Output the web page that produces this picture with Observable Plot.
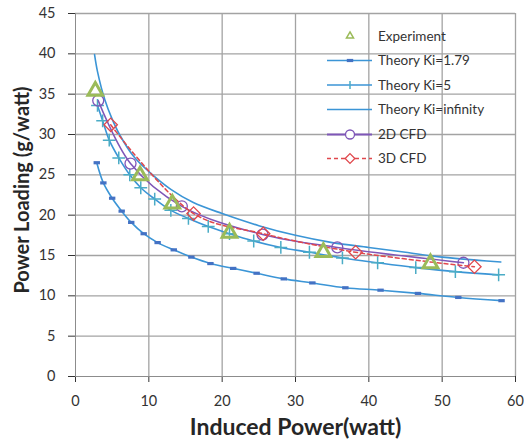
<!DOCTYPE html>
<html>
<head>
<meta charset="utf-8">
<script src="https://cdn.jsdelivr.net/npm/d3@7"></script>
<script src="https://cdn.jsdelivr.net/npm/@observablehq/plot@0.6"></script>
<style>
  html, body { margin: 0; padding: 0; background: #fff; }
  #chart { position: relative; width: 524px; height: 448px; }
  #chart svg { font-family: Lato, "Liberation Sans", sans-serif; }
</style>
</head>
<body>
<div id="chart"></div>
<script>
// ---- data ----
const xTicks = [0, 10, 20, 30, 40, 50, 60];
const yTicks = [0, 5, 10, 15, 20, 25, 30, 35, 40, 45];

const expX = [2.7, 8.8, 13.2, 21.0, 33.8, 48.4];
const expY = [35.4, 24.9, 21.4, 17.8, 15.4, 14.0];

const k179X = [2.9, 3.8, 5.0, 6.3, 7.6, 9.3, 11.2, 13.4, 15.8, 18.4, 21.5, 24.7, 28.4, 32.3, 36.8, 41.6, 46.7, 52.2, 58.1];
const k179Y = [26.5, 24.0, 22.1, 20.5, 19.1, 17.7, 16.6, 15.7, 14.8, 14.0, 13.4, 12.8, 12.1, 11.6, 11.0, 10.7, 10.3, 9.8, 9.4];

const k5X = [3.0, 3.7, 4.6, 5.9, 7.4, 8.9, 10.8, 13.0, 15.4, 18.1, 21.0, 24.3, 28.0, 31.9, 36.4, 41.2, 46.4, 51.8, 57.7];
const k5Y = [33.6, 31.7, 29.3, 27.1, 25.0, 23.4, 22.0, 20.6, 19.6, 18.6, 17.7, 16.8, 16.0, 15.4, 14.7, 14.1, 13.5, 13.0, 12.6];

const kInfX = [2.6, 3, 4, 5, 6, 8, 10, 13, 16, 20, 25, 30, 35, 40, 45, 50, 55, 58];
const kInfY = [39.9, 37.8, 34.3, 31.9, 30.0, 27.2, 25.4, 23.2, 21.6, 20.2, 18.7, 17.5, 16.6, 16.0, 15.4, 14.8, 14.4, 14.2];

const cfd2X = [3.1, 7.5, 14.5, 25.5, 35.7, 52.9];
const cfd2Y = [34.2, 26.4, 21.1, 17.6, 16.0, 14.1];

const cfd3X = [4.8, 16.1, 25.6, 38.2, 54.4];
const cfd3Y = [31.2, 20.2, 17.7, 15.4, 13.6];

const legendLabels = ["Experiment", "Theory Ki=1.79", "Theory Ki=5", "Theory Ki=infinity", "2D CFD", "3D CFD"];
const xTitle = "Induced Power(watt)";
const yTitle = "Power Loading (g/watt)";

// ---- styles ----
const C = {
  grid: "#a3a3a3",
  line: "#3b95d6",
  k179: "#4472c4",
  k5: "#4bacc6",
  exp: "#9bbb59",
  cfd2: "#7f56b8",
  cfd3: "#e0474c",
  text: "#333333"
};

const zip = (xs, ys) => xs.map((x, i) => ({x, y: ys[i]}));
const exp = zip(expX, expY), k179 = zip(k179X, k179Y), k5 = zip(k5X, k5Y),
      kInf = zip(kInfX, kInfY), cfd2 = zip(cfd2X, cfd2Y), cfd3 = zip(cfd3X, cfd3Y);

const dash = {
  draw(ctx, size) {
    const w = 3.2, h = 1.6;
    ctx.moveTo(-w, -h); ctx.lineTo(w, -h); ctx.lineTo(w, h); ctx.lineTo(-w, h); ctx.closePath();
  }
};

const plot = Plot.plot({
  width: 524,
  height: 448,
  marginLeft: 75,
  marginRight: 9,
  marginTop: 13,
  marginBottom: 72,
  style: {fontFamily: "Lato, 'Liberation Sans', sans-serif", fontSize: "14.5px", color: C.text, background: "#fff"},
  x: {domain: [0, 60], ticks: xTicks, tickSize: 6, tickPadding: 13, label: null, tickFormat: d => d},
  y: {domain: [0, 45], ticks: yTicks, tickSize: 7, tickPadding: 13, label: null, tickFormat: d => d},
  marks: [
    Plot.ruleX(xTicks.slice(1), {stroke: C.grid, strokeWidth: 1.3}),
    Plot.ruleY(yTicks.slice(1), {stroke: C.grid, strokeWidth: 1.3}),
    Plot.ruleX([0], {stroke: "#8c8c8c", strokeWidth: 1}),
    Plot.ruleY([0], {stroke: "#8c8c8c", strokeWidth: 1}),
    // theory curves
    Plot.line(kInf, {x: "x", y: "y", stroke: C.line, strokeWidth: 1.6, curve: "catmull-rom"}),
    Plot.line(k5, {x: "x", y: "y", stroke: C.line, strokeWidth: 1.6, curve: "catmull-rom"}),
    Plot.line(k179, {x: "x", y: "y", stroke: C.line, strokeWidth: 1.6, curve: "catmull-rom"}),
    Plot.dot(k179, {x: "x", y: "y", symbol: dash, fill: C.k179, stroke: "none", r: 3}),
    Plot.dot(k5, {x: "x", y: "y", symbol: "plus", stroke: C.k5, strokeWidth: 1.5, r: 4.2}),
    // CFD
    Plot.line(cfd2, {x: "x", y: "y", stroke: C.cfd2, strokeWidth: 1.5, curve: "catmull-rom"}),
    Plot.dot(cfd2, {x: "x", y: "y", symbol: "circle", stroke: C.cfd2, strokeWidth: 1.3, fill: "none", r: 5.5}),
    Plot.line(cfd3, {x: "x", y: "y", stroke: C.cfd3, strokeWidth: 1.5, strokeDasharray: "4,3", curve: "catmull-rom"}),
    Plot.dot(cfd3, {x: "x", y: "y", symbol: "diamond2", stroke: C.cfd3, strokeWidth: 1.3, fill: "none", r: 6}),
    // experiment
    Plot.dot(exp, {x: "x", y: "y", symbol: "triangle2", stroke: C.exp, strokeWidth: 3, fill: "none", r: 7}),
    // axis titles
    Plot.text([xTitle], {frameAnchor: "bottom", dy: 58, text: d => d, textAnchor: "middle", fontSize: 23, fontWeight: "bold", fill: "#262626"}),
    Plot.text([yTitle], {frameAnchor: "left", dx: -53, dy: -5, rotate: -90, text: d => d, textAnchor: "middle", fontSize: 20, fontWeight: "bold", fill: "#262626"})
  ]
});

document.getElementById("chart").appendChild(plot);

// ---- legend (inside plot area, no background) ----
const svg = d3.select(plot);
const lg = svg.append("g").attr("font-family", "Lato, 'Liberation Sans', sans-serif").attr("font-size", 13.5).attr("text-anchor", "start");
const rowsY = [36, 60.5, 85, 109.5, 134.5, 158.5];
legendLabels.forEach((lab, i) => {
  const y = rowsY[i], x0 = 327, x1 = 372, xm = 350;
  const g = lg.append("g");
  if (i === 0) {
    g.append("path").attr("transform", `translate(${xm},${y})`)
      .attr("d", d3.symbol(d3.symbolTriangle2, 36)()).attr("fill", "none").attr("stroke", C.exp).attr("stroke-width", 1.5);
  } else if (i === 1) {
    g.append("line").attr("x1", x0).attr("x2", x1).attr("y1", y).attr("y2", y).attr("stroke", C.line).attr("stroke-width", 1.6);
    g.append("rect").attr("x", xm - 3.2).attr("y", y - 1.6).attr("width", 6.4).attr("height", 3.2).attr("fill", C.k179);
  } else if (i === 2) {
    g.append("line").attr("x1", x0).attr("x2", x1).attr("y1", y).attr("y2", y).attr("stroke", C.line).attr("stroke-width", 1.6);
    g.append("line").attr("x1", xm).attr("x2", xm).attr("y1", y - 4).attr("y2", y + 4).attr("stroke", C.k5).attr("stroke-width", 1.5);
  } else if (i === 3) {
    g.append("line").attr("x1", x0).attr("x2", x1).attr("y1", y).attr("y2", y).attr("stroke", C.line).attr("stroke-width", 1.6);
  } else if (i === 4) {
    g.append("line").attr("x1", x0).attr("x2", x1).attr("y1", y).attr("y2", y).attr("stroke", C.cfd2).attr("stroke-width", 2);
    g.append("circle").attr("cx", xm).attr("cy", y).attr("r", 4.5).attr("fill", "#fff").attr("stroke", C.cfd2).attr("stroke-width", 1.3);
  } else {
    g.append("line").attr("x1", x0).attr("x2", x1).attr("y1", y).attr("y2", y).attr("stroke", C.cfd3).attr("stroke-width", 1.3).attr("stroke-dasharray", "4,3");
    g.append("path").attr("transform", `translate(${xm},${y})`)
      .attr("d", d3.symbol(d3.symbolDiamond2, 60)()).attr("fill", "#fff").attr("stroke", C.cfd3).attr("stroke-width", 1.3);
  }
  g.append("text").attr("x", 378).attr("y", y).attr("dy", "0.35em").attr("fill", "#333").text(lab);
});
</script>
</body>
</html>
